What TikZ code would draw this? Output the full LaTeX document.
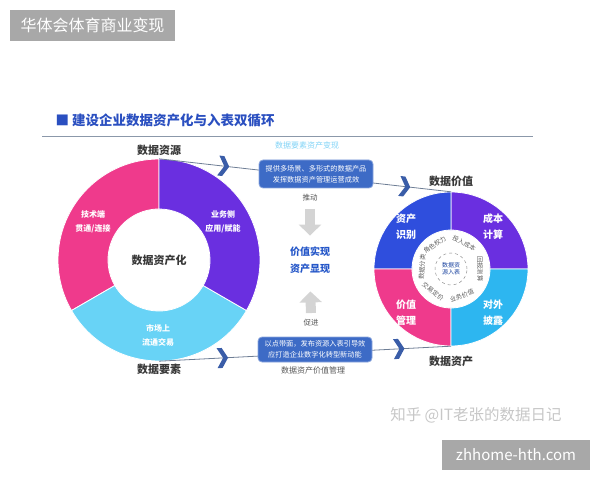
\documentclass[tikz,border=0pt]{standalone}
\usepackage{fontspec}
\setmainfont{Noto Sans CJK SC}
\usetikzlibrary{positioning,arrows.meta}
\definecolor{ringpink}{HTML}{EF3A8C}
\definecolor{ringpurple}{HTML}{6A2FE0}
\definecolor{ringcyan}{HTML}{68D3F6}
\definecolor{ringsky}{HTML}{2DB6F0}
\definecolor{ringblue}{HTML}{2F4EDD}
\definecolor{boxblue}{HTML}{3D6BC6}
\definecolor{chevblue}{HTML}{3A5DA8}
\definecolor{titleblue}{HTML}{2A4FC0}
\definecolor{midblue}{HTML}{2456C8}
\definecolor{flowgrey}{HTML}{6E7E95}
\definecolor{darktext}{HTML}{383838}
\definecolor{wmgray}{HTML}{A8A8A8}

\begin{document}
\begin{tikzpicture}[x=1pt, y=1pt, ring/.style={circle, inner sep=0pt}, ringlabel/.style={font=\fontsize{11}{12}\selectfont\bfseries, text=darktext, inner sep=1pt}, segtext/.style={font=\fontsize{8}{14}\selectfont\bfseries, text=white, align=center}, quadtext/.style={font=\fontsize{10}{16}\selectfont\bfseries, text=white, align=center, inner sep=1pt}, innertext/.style={font=\fontsize{6.3}{7}\selectfont, text=darktext!80, inner sep=0pt}, flowline/.style={draw=flowgrey, line width=0.8pt}, infobox/.style={rounded corners=4pt, fill=boxblue, draw=boxblue!60!white, line width=0.8pt, text=white, align=center, font=\fontsize{7.2}{11}\selectfont, minimum width=114pt}, greyarrow/.style={draw=black!17, line width=10pt, -{Triangle[width=22pt,length=11pt]}}, smalltext/.style={font=\fontsize{7.5}{8}\selectfont, text=darktext!85}, stamp/.style={fill=wmgray, text=white, inner sep=0pt}]
\useasboundingbox (0,0) rectangle (600,480);

% watermarks
\node[stamp, minimum width=165pt, minimum height=31pt, font=\fontsize{16}{18}\selectfont] (brand) at (92.5,454.5) {华体会体育商业变现};
\node[font=\fontsize{15.5}{18}\selectfont, text=black!22] (zhihu) at (476,65) {知乎 @IT老张的数据日记};
\node[stamp, minimum width=148pt, minimum height=30pt, font=\fontsize{15}{18}\selectfont] (domain) at (516,25) {zhhome-hth.com};

% title
\node[anchor=west, font=\fontsize{13.5}{15}\selectfont\bfseries, text=titleblue] (title) at (52,360) {■ 建设企业数据资产化与入表双循环};
\draw[flowgrey!80, line width=1pt] (42,343) -- (533,343);

% the two rings
\node[ring, minimum size=202pt] (srcring) at (159,220) {};
\node[ring, minimum size=154pt] (valring) at (451,211) {};

\foreach \a/\b/\col in {90/210/ringpink, 210/330/ringcyan, -30/90/ringpurple}
  \filldraw[fill=\col, draw=white, line width=0.8pt] (srcring.center) ++(\a:101) arc[start angle=\a, end angle=\b, radius=101] -- ++(\b:-50) arc[start angle=\b, end angle=\a, radius=51] -- cycle;

\foreach \a/\b/\col in {0/90/ringpurple, 90/180/ringblue, 180/270/ringpink, 270/360/ringsky}
  \filldraw[fill=\col, draw=white, line width=0.8pt] (valring.center) ++(\a:77) arc[start angle=\a, end angle=\b, radius=77] -- ++(\b:-38) arc[start angle=\b, end angle=\a, radius=39] -- cycle;
\draw[black!45, dashed, line width=0.5pt] (valring.center) circle[radius=16];

\node[font=\fontsize{11}{12}\selectfont\bfseries, text=darktext] (assetize) at (srcring.center) {数据资产化};
\node[segtext] (tech) at (93,258) {技术端\\贯通/连接};
\node[segtext] (biz) at (223,258) {业务侧\\应用/赋能};
\node[segtext] (market) at (158,145) {市场上\\流通交易};

\node[quadtext] (identify) at (406,253) {资产\\识别};
\node[quadtext] (cost) at (493,253) {成本\\计算};
\node[quadtext] (manage) at (406,167) {价值\\管理};
\node[quadtext] (disclose) at (493,167) {对外\\披露};
\node[font=\fontsize{6}{7}\selectfont, text=midblue!80!black, align=center] (entry) at (valring.center) {数据资\\源入表};

\foreach \ang/\rot/\txt in {124/34/角色权力, 63/-27/投入成本, 0/-90/回报测算, -68/22/业务价值, -128/-38/交易定价, 176/86/数据分类}
  \node[innertext, rotate=\rot] at ([shift={(\ang:29)}]valring.center) {\txt};

\node[ringlabel, above=2pt of srcring] (source) {数据资源};
\node[ringlabel, below=1.5pt of srcring] (factor) {数据要素};
\node[ringlabel, above=3.5pt of valring] (worth) {数据价值};
\node[ringlabel, below=9pt of valring] (asset) {数据资产};

% flow lines
\draw[flowline] (srcring.north) -- coordinate[pos=0.22] (topchev1) coordinate[pos=0.84] (topchev2) (valring.north);
\draw[flowline] (srcring.south) -- coordinate[pos=0.216] (botchev1) coordinate[pos=0.82] (botchev2) (valring.south);
\foreach \c/\r in {topchev1/-6.6, topchev2/-6.6, botchev1/2.9, botchev2/2.9}
  \fill[chevblue, shift={(\c)}, rotate=\r] (-5,10) -- (0,10) -- (6,0) -- (0,-10) -- (-5,-10) -- (1,0) -- cycle;

\node[infobox, minimum height=28pt] (offer) at (316,306) {提供多场景、多形式的数据产品\\发挥数据资产管理运营成效};
\node[infobox, minimum height=25pt] (guide) at (315,130.5) {以点带面，发布资源入表引导效\\应打造企业数字化转型新动能};
\node[font=\fontsize{8}{9}\selectfont, text=ringsky!60] (realize) at (307,335) {数据要素资产变现};
\node[font=\fontsize{8}{9}\selectfont, text=darktext!85] (valmgmt) at (313,110) {数据资产价值管理};

% centre column
\node[smalltext] (push) at (310,282) {推动};
\node[font=\fontsize{10}{17}\selectfont\bfseries, text=midblue, align=center] (valtxt) at (310,219.5) {价值实现\\资产显现};
\node[smalltext] (promote) at (311,157) {促进};
\draw[greyarrow, shorten <=4pt, shorten >=8pt] (push.south) -- (valtxt.north);
\draw[greyarrow, shorten <=3pt, shorten >=14pt] (promote.north) -- (valtxt.south);
\end{tikzpicture}
\end{document}
